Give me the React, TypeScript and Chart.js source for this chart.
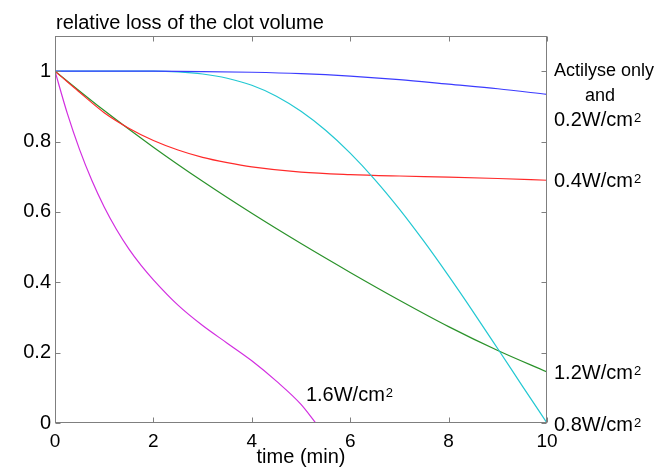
import React, { useEffect, useRef } from 'react';
import { Chart, registerables } from 'chart.js';

Chart.register(...registerables);

// Time axis (min) and relative clot-volume values for each curve
const blueT = [0, 1, 2, 3, 4, 5, 6, 7, 8, 9, 10];
const blueV = [1, 1, 1, 0.999, 0.997, 0.993, 0.986, 0.976, 0.963, 0.95, 0.934];

const cyanT = [0, 1, 2, 2.5, 3, 3.5, 4, 4.5, 5, 5.5, 6, 6.5, 7, 7.5, 8, 8.5, 9, 9.5, 10];
const cyanV = [1, 1, 1, 0.998, 0.992, 0.98, 0.96, 0.929, 0.886, 0.832, 0.767, 0.692, 0.608, 0.516, 0.418, 0.316, 0.211, 0.105, 0];

const redT = [0, 0.25, 0.5, 1, 1.5, 2, 2.5, 3, 3.5, 4, 5, 6, 7, 8, 9, 10];
const redV = [1, 0.97, 0.94, 0.882, 0.838, 0.803, 0.776, 0.755, 0.74, 0.728, 0.713, 0.706, 0.702, 0.699, 0.695, 0.69];

const greenT = [0, 1, 2, 3, 4, 5, 6, 7, 8, 9, 10];
const greenV = [1, 0.888, 0.784, 0.687, 0.596, 0.51, 0.428, 0.349, 0.274, 0.206, 0.145];

const magentaT = [0, 0.25, 0.5, 0.75, 1, 1.25, 1.5, 1.75, 2, 2.5, 3, 3.5, 4, 4.5, 5, 5.3];
const magentaV = [1, 0.88, 0.777, 0.689, 0.614, 0.55, 0.495, 0.448, 0.407, 0.335, 0.277, 0.227, 0.177, 0.119, 0.053, 0];

const xTicks = [0, 2, 4, 6, 8, 10];
const yTicks = [0, 0.2, 0.4, 0.6, 0.8, 1];
const yTickLabels = ['0', '0.2', '0.4', '0.6', '0.8', '1'];

const titleText = 'relative loss of the clot volume';
const xTitle = 'time (min)';

const FONT = '"Liberation Sans", Arial, Helvetica, sans-serif';

function pts(t: number[], v: number[]) {
  return t.map((x, i) => ({ x, y: v[i] }));
}

function supText(ctx: CanvasRenderingContext2D, main: string, sup: string, x: number, base: number, size: number) {
  ctx.font = `${size}px ${FONT}`;
  ctx.fillText(main, x, base);
  const w = ctx.measureText(main).width;
  ctx.font = `${Math.round(size * 0.66)}px ${FONT}`;
  ctx.fillText(sup, x + w + 1, base - 4);
}

export default function App() {
  const ref = useRef<HTMLCanvasElement>(null);

  useEffect(() => {
    if (!ref.current) return;

    const framePlugin = {
      id: 'frameAndText',
      afterDraw(chart: any) {
        const { ctx, chartArea: a, scales } = chart;
        const xs = scales.x;
        const ys = scales.y;
        ctx.save();
        ctx.strokeStyle = '#7f7f7f';
        ctx.lineWidth = 1;
        const L = Math.round(a.left) + 0.5;
        const R = Math.round(a.right) - 0.5;
        const T = Math.round(a.top) + 0.5;
        const B = Math.round(a.bottom) - 0.5;
        ctx.strokeRect(L, T, R - L, B - T);
        ctx.beginPath();
        for (const v of xTicks) {
          const px = Math.round(xs.getPixelForValue(v)) + 0.5;
          ctx.moveTo(px, B);
          ctx.lineTo(px, B - 5);
          ctx.moveTo(px, T);
          ctx.lineTo(px, T + 5);
        }
        for (const v of yTicks) {
          const py = Math.round(ys.getPixelForValue(v)) + 0.5;
          ctx.moveTo(L, py);
          ctx.lineTo(L + 5, py);
          ctx.moveTo(R, py);
          ctx.lineTo(R - 5, py);
        }
        ctx.stroke();

        ctx.fillStyle = '#000';
        ctx.textBaseline = 'alphabetic';
        ctx.textAlign = 'left';
        ctx.font = `20px ${FONT}`;
        ctx.fillText(titleText, a.left + 1, 29);

        const lx = a.right + 7;
        ctx.font = `18px ${FONT}`;
        ctx.fillText('Actilyse only', lx, 76);
        ctx.fillText('and', lx + 31, 101);
        supText(ctx, '0.2W/cm', '2', lx, 126, 20);
        supText(ctx, '0.4W/cm', '2', lx, 187, 20);
        supText(ctx, '1.2W/cm', '2', lx, 379, 20);
        supText(ctx, '0.8W/cm', '2', lx, 431, 20);
        supText(ctx, '1.6W/cm', '2', xs.getPixelForValue(5.1), 401, 20);
        ctx.restore();
      },
    };

    const line = (label: string, t: number[], v: number[], color: string) => ({
      label,
      data: pts(t, v),
      borderColor: color,
      backgroundColor: color,
      borderWidth: 1.2,
      pointRadius: 0,
      fill: false,
      cubicInterpolationMode: 'monotone' as const,
    });

    const chart = new Chart(ref.current, {
      type: 'line',
      data: {
        datasets: [
          line('Actilyse only and 0.2W/cm2', blueT, blueV, '#3c3cff'),
          line('0.8W/cm2', cyanT, cyanV, '#22c8d2'),
          line('0.4W/cm2', redT, redV, '#ff2a2a'),
          line('1.2W/cm2', greenT, greenV, '#2a922a'),
          line('1.6W/cm2', magentaT, magentaV, '#d22ee0'),
        ],
      },
      options: {
        animation: false,
        responsive: false,
        devicePixelRatio: 1,
        layout: { padding: { top: 36, right: 119, left: 0, bottom: 0 } },
        plugins: {
          legend: { display: false },
          tooltip: { enabled: false },
          title: { display: false },
        },
        scales: {
          x: {
            type: 'linear',
            min: 0,
            max: 10,
            grid: { display: false, drawTicks: false },
            border: { display: false },
            afterBuildTicks: (s: any) => {
              s.ticks = xTicks.map((v) => ({ value: v }));
            },
            afterFit: (s: any) => {
              s.height = 46;
            },
            ticks: {
              color: '#000',
              padding: 7,
              maxRotation: 0,
              font: { family: FONT, size: 19 },
              callback: (v: any) => String(v),
            },
            title: {
              display: true,
              text: xTitle,
              color: '#000',
              font: { family: FONT, size: 20 },
              padding: { top: 0, bottom: 0 },
            },
          },
          y: {
            type: 'linear',
            min: 0,
            max: 1.1,
            grid: { display: false, drawTicks: false },
            border: { display: false },
            afterBuildTicks: (s: any) => {
              s.ticks = yTicks.map((v) => ({ value: v }));
            },
            afterFit: (s: any) => {
              s.width = 55;
            },
            ticks: {
              color: '#000',
              padding: 4,
              font: { family: FONT, size: 20 },
              callback: (v: any) => {
                const i = yTicks.indexOf(Number(v));
                return i >= 0 ? yTickLabels[i] : '';
              },
            },
          },
        },
      },
      plugins: [framePlugin],
    });

    return () => chart.destroy();
  }, []);

  return (
    <div style={{ position: 'absolute', left: 0, top: 0, width: 666, height: 469, background: '#fff' }}>
      <canvas ref={ref} width={666} height={469} style={{ width: 666, height: 469 }} />
    </div>
  );
}
